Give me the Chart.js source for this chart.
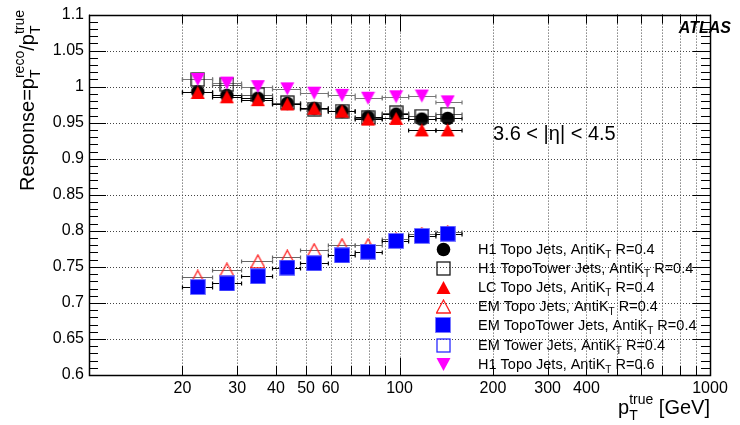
<!DOCTYPE html>
<html><head><meta charset="utf-8">
<script src="https://cdn.jsdelivr.net/npm/chart.js@4"></script>
<style>html,body{margin:0;padding:0;background:#fff}#wrap{width:740px;height:425px}</style>
</head><body><div id="wrap"><canvas id="c" width="740" height="425"></canvas></div>
<script>
// ---- data ----
const ptCenter = [22.4, 27.8, 35.0, 43.5, 53.1, 65.3, 79.2, 97.5, 118, 143];
const binLow   = [20, 25, 31, 39, 48, 59, 72, 88, 107, 131];
const binHigh  = [25, 31, 39, 48, 59, 72, 88, 107, 131, 159];

const h1Topo04      = [0.993, 0.988, 0.984, 0.977, 0.970, 0.966, 0.958, 0.962, 0.955, 0.956];
const h1TopoTower04 = [1.010, 1.003, 0.989, 0.978, 0.969, 0.966, 0.957, 0.964, 0.959, 0.962];
const lcTopo04      = [0.992, 0.986, 0.982, 0.976, 0.970, 0.966, 0.955, 0.956, 0.940, 0.940];
const emTopo04      = [0.736, 0.746, 0.7575, 0.764, 0.773, 0.780, 0.780, 0.788, 0.7955, 0.798];
const emTopoTower04 = [0.722, 0.727, 0.737, 0.749, 0.755, 0.766, 0.771, 0.786, 0.793, 0.796];
const emTower04     = [];
const h1Topo06      = [1.010, 1.005, 1.000, 0.997, 0.991, 0.988, 0.984, 0.986, 0.987, 0.979];

const seriesNames = [
  ['H1 Topo Jets, AntiK', 'T', ' R=0.4'],
  ['H1 TopoTower Jets, AntiK', 'T', ' R=0.4'],
  ['LC Topo Jets, AntiK', 'T', ' R=0.4'],
  ['EM Topo Jets, AntiK', 'T', ' R=0.4'],
  ['EM TopoTower Jets, AntiK', 'T', ' R=0.4'],
  ['EM Tower Jets, AntiK', 'T', ' R=0.4'],
  ['H1 Topo Jets, AntiK', 'T', ' R=0.6']
];
const seriesValues = [h1Topo04, h1TopoTower04, lcTopo04, emTopo04, emTopoTower04, emTower04, h1Topo06];

const xTickValues = [10,20,30,40,50,60,70,80,90,100,200,300,400,500,600,700,800,900,1000];
const xTickLabels = ['','20','30','40','50','60','','','','100','200','300','400','','','','','','1000'];
const yTickValues = [0.6,0.65,0.7,0.75,0.8,0.85,0.9,0.95,1.0,1.05,1.1];
const yTickLabels = ['0.6','0.65','0.7','0.75','0.8','0.85','0.9','0.95','1','1.05','1.1'];

// ---- styling ----
const FONT = "'Liberation Sans', Arial, Helvetica, sans-serif";
Chart.defaults.font.family = FONT;

function marker(kind, fill, stroke) {
  const c = document.createElement('canvas');
  const s = (kind === 'fsq') ? 16 : 15;
  c.width = s; c.height = s;
  const g = c.getContext('2d');
  const m = s / 2;
  g.lineWidth = 1.3;
  if (kind === 'circle') {
    g.beginPath(); g.arc(m, m, 6.8, 0, Math.PI * 2); g.fillStyle = fill; g.fill();
  } else if (kind === 'fsq') {
    g.fillStyle = fill; g.fillRect(0.5, 0.5, s - 1, s - 1);
    g.strokeStyle = 'rgba(120,120,255,0.8)'; g.lineWidth = 1; g.strokeRect(0.5, 0.5, s - 1, s - 1);
  } else if (kind === 'osq') {
    g.strokeStyle = stroke; g.strokeRect(1, 1, s - 2, s - 2);
  } else if (kind === 'tri' || kind === 'otri') {
    g.beginPath(); g.moveTo(m, 1); g.lineTo(s - 0.5, s - 1); g.lineTo(0.5, s - 1); g.closePath();
    if (kind === 'tri') { g.fillStyle = fill; g.fill(); } else { g.strokeStyle = stroke; g.stroke(); }
  } else if (kind === 'itri') {
    g.beginPath(); g.moveTo(0.5, 1); g.lineTo(s - 0.5, 1); g.lineTo(m, s - 1); g.closePath();
    g.fillStyle = fill; g.fill();
  }
  return c;
}
const markers = [
  marker('circle', '#000'),
  marker('osq', null, '#1a1a1a'),
  marker('tri', '#ff0000'),
  marker('otri', null, '#ff2020'),
  marker('fsq', '#0000ff'),
  marker('osq', null, '#2a2aff'),
  marker('itri', '#ff00ff')
];
const barColors = ['#000', '#555', '#000', '#666', '#000', '#000', '#777'];

const datasets = seriesValues.map((vals, i) => ({
  label: seriesNames[i].join(''),
  data: vals.map((v, j) => ({ x: ptCenter[j], y: v })),
  pointStyle: markers[i],
  pointRadius: 7,
  pointHoverRadius: 7,
  showLine: false,
  order: seriesValues.length - i,
  barColor: barColors[i]
}));

function richText(ctx, x, y, parts, baseSize, st) {
  st = st || 0.7;
  let cx = x;
  for (const p of parts) {
    if (p.kind === 'n') {
      ctx.font = baseSize + 'px ' + FONT;
      ctx.fillText(p.t, cx, y); cx += ctx.measureText(p.t).width;
    } else if (p.kind === 'sub') {
      ctx.font = Math.round(baseSize * 0.7) + 'px ' + FONT;
      ctx.fillText(p.t, cx, y + baseSize * 0.3); cx += ctx.measureText(p.t).width;
    } else if (p.kind === 'stack') {
      ctx.font = Math.round(baseSize * st) + 'px ' + FONT;
      ctx.fillText(p.sub, cx, y + baseSize * 0.32);
      ctx.fillText(p.sup, cx, y - baseSize * 0.48);
      cx += Math.max(ctx.measureText(p.sub).width, ctx.measureText(p.sup).width);
    }
  }
  return cx - x;
}
function richWidth(ctx, parts, baseSize, st) {
  st = st || 0.7;
  let w = 0;
  for (const p of parts) {
    if (p.kind === 'n') { ctx.font = baseSize + 'px ' + FONT; w += ctx.measureText(p.t).width; }
    else if (p.kind === 'sub') { ctx.font = Math.round(baseSize * 0.7) + 'px ' + FONT; w += ctx.measureText(p.t).width; }
    else { ctx.font = Math.round(baseSize * st) + 'px ' + FONT; w += Math.max(ctx.measureText(p.sub).width, ctx.measureText(p.sup).width); }
  }
  return w;
}

const decor = {
  id: 'decor',
  beforeDatasetsDraw(chart) {
    const { ctx, chartArea: a, scales: { x, y } } = chart;
    ctx.save();
    // dotted grid
    ctx.strokeStyle = '#444'; ctx.lineWidth = 1; ctx.setLineDash([1, 2]);
    for (const v of xTickValues) {
      if (v === 10 || v === 1000) continue;
      const px = Math.round(x.getPixelForValue(v)) + 0.5;
      ctx.beginPath(); ctx.moveTo(px, a.top); ctx.lineTo(px, a.bottom); ctx.stroke();
    }
    for (const v of yTickValues) {
      if (v === 0.6 || v === 1.1) continue;
      const py = Math.round(y.getPixelForValue(v)) + 0.5;
      ctx.beginPath(); ctx.moveTo(a.left, py); ctx.lineTo(a.right, py); ctx.stroke();
    }
    ctx.setLineDash([]);
    // horizontal error bars (bin widths)
    chart.data.datasets.forEach((ds) => {
      ctx.strokeStyle = ds.barColor; ctx.lineWidth = 1.2;
      ds.data.forEach((p, j) => {
        const py = Math.round(y.getPixelForValue(p.y)) + 0.5;
        const x1 = x.getPixelForValue(binLow[j]), x2 = x.getPixelForValue(binHigh[j]);
        ctx.beginPath(); ctx.moveTo(x1, py); ctx.lineTo(x2, py);
        ctx.moveTo(x1, py - 2); ctx.lineTo(x1, py + 2);
        ctx.moveTo(x2, py - 2); ctx.lineTo(x2, py + 2);
        ctx.stroke();
      });
    });
    ctx.restore();
  },
  afterDatasetsDraw(chart) {
    const { ctx, chartArea: a, scales: { x, y } } = chart;
    ctx.save();
    ctx.strokeStyle = '#000'; ctx.lineWidth = 1;
    // axis ticks
    ctx.beginPath();
    for (let k = 0; k <= 50; k++) {
      const v = 0.6 + k * 0.01;
      const py = Math.round(y.getPixelForValue(v)) + 0.5;
      const len = (k % 5 === 0) ? 17 : 9;
      ctx.moveTo(a.left, py); ctx.lineTo(a.left + len, py);
      ctx.moveTo(a.right, py); ctx.lineTo(a.right - len, py);
    }
    for (const v of xTickValues) {
      const px = Math.round(x.getPixelForValue(v)) + 0.5;
      const len = (v === 100) ? 17 : 9;
      ctx.moveTo(px, a.bottom); ctx.lineTo(px, a.bottom - len);
      ctx.moveTo(px, a.top); ctx.lineTo(px, a.top + len);
    }
    ctx.stroke();
    // frame
    ctx.lineWidth = 1.5;
    ctx.strokeRect(Math.round(a.left) + 0.5, Math.round(a.top) + 0.5, Math.round(a.right - a.left), Math.round(a.bottom - a.top));

    ctx.fillStyle = '#000'; ctx.textBaseline = 'alphabetic'; ctx.textAlign = 'left';
    // y title
    const yParts = [
      { kind: 'n', t: 'Response=p' }, { kind: 'stack', sub: 'T', sup: 'reco' },
      { kind: 'n', t: '/p' }, { kind: 'stack', sub: 'T', sup: 'true' }
    ];
    const yw = richWidth(ctx, yParts, 20, 0.7);
    ctx.save(); ctx.translate(34, 0); ctx.rotate(-Math.PI / 2);
    richText(ctx, -10 - yw, 0, yParts, 20, 0.7);
    ctx.restore();
    // x title
    const xParts = [{ kind: 'n', t: 'p' }, { kind: 'stack', sub: 'T', sup: 'true' }, { kind: 'n', t: ' [GeV]' }];
    const xw = richWidth(ctx, xParts, 20, 0.7);
    richText(ctx, 710 - xw, 414, xParts, 20, 0.7);
    // ATLAS
    ctx.font = 'italic bold 16px ' + FONT; ctx.textAlign = 'right';
    ctx.fillText('ATLAS', 731, 33);
    // eta range
    ctx.textAlign = 'left'; ctx.font = '20px ' + FONT;
    ctx.fillText('3.6 < |\u03B7| < 4.5', 493, 140);
    // legend
    const rows = [249, 268, 287, 306, 325, 345, 364];
    chart.data.datasets.forEach((ds, i) => {
      const m = markers[i];
      ctx.drawImage(m, Math.round(443 - m.width / 2), Math.round(rows[i] - m.height / 2));
      const n = seriesNames[i];
      richText(ctx, 478, rows[i] + 5, [{ kind: 'n', t: n[0] }, { kind: 'sub', t: n[1] }, { kind: 'n', t: n[2] }], 14.5);
    });
    ctx.restore();
  }
};

new Chart(document.getElementById('c'), {
  type: 'scatter',
  data: { datasets },
  options: {
    responsive: false,
    devicePixelRatio: 1,
    animation: false,
    layout: { padding: { left: 0, right: 30, top: 11, bottom: 0 } },
    plugins: { legend: { display: false }, tooltip: { enabled: false } },
    scales: {
      x: {
        type: 'logarithmic', min: 10, max: 1000,
        afterBuildTicks: s => { s.ticks = xTickValues.map(v => ({ value: v })); },
        afterFit: s => { s.height = 50; },
        ticks: { autoSkip: false, maxRotation: 0, minRotation: 0, padding: 4, color: '#000', font: { size: 16 },
                 callback: (v, i) => xTickLabels[i] },
        grid: { display: false, drawTicks: false },
        border: { display: false }
      },
      y: {
        type: 'linear', min: 0.6, max: 1.1,
        afterBuildTicks: s => { s.ticks = yTickValues.map(v => ({ value: v })); },
        afterFit: s => { s.width = 89; },
        ticks: { padding: 5, color: '#000', font: { size: 16 }, callback: (v, i) => yTickLabels[i] },
        grid: { display: false, drawTicks: false },
        border: { display: false }
      }
    }
  },
  plugins: [decor]
});
</script>
</body></html>
